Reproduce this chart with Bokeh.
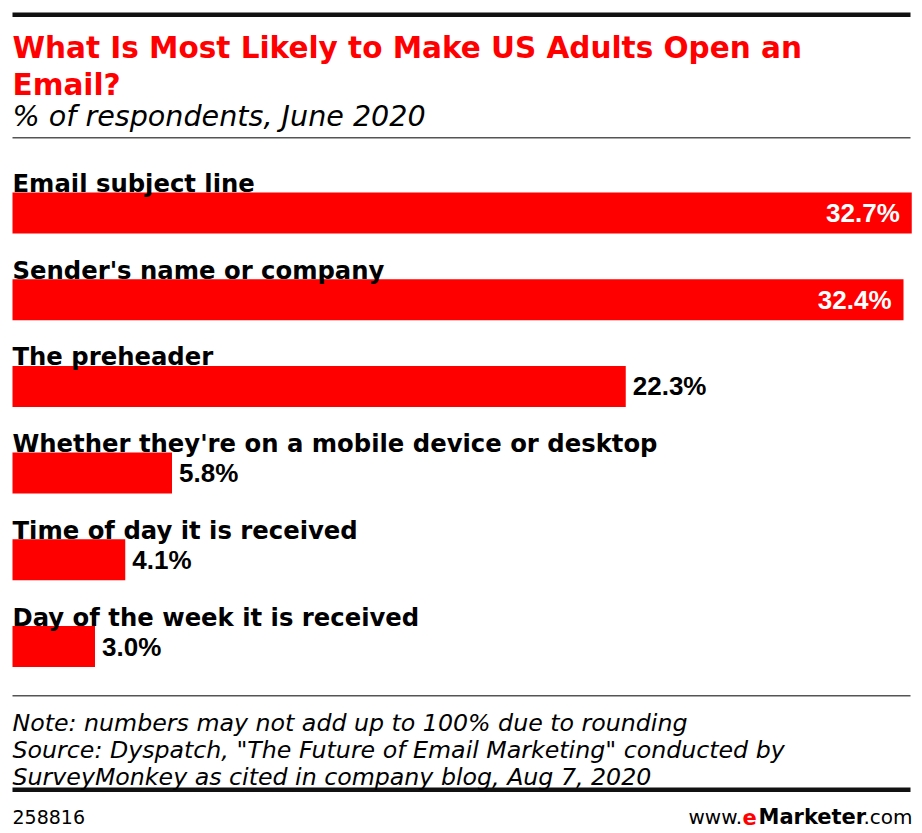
from bokeh.plotting import figure
from bokeh.models import Range1d, Label, BoxAnnotation, ColumnDataSource
from bokeh.core.properties import value
from bokeh.embed import file_html
from bokeh.resources import INLINE

# ---- data ----
categories = [
    "Email subject line",
    "Sender's name or company",
    "The preheader",
    "Whether they're on a mobile device or desktop",
    "Time of day it is received",
    "Day of the week it is received",
]
values = [32.7, 32.4, 22.3, 5.8, 4.1, 3.0]
value_labels = ["32.7%", "32.4%", "22.3%", "5.8%", "4.1%", "3.0%"]

title_lines = ["What Is Most Likely to Make US Adults Open an", "Email?"]
subtitle = "% of respondents, June 2020"
note_lines = [
    "Note: numbers may not add up to 100% due to rounding",
    "Source: Dyspatch, \"The Future of Email Marketing\" conducted by",
    "SurveyMonkey as cited in company blog, Aug 7, 2020",
]
chart_id = "258816"

# ---- layout helpers (page pixel -> data) ----
W, H = 922, 833
OFF = 0
KX = 27.5            # px per percentage point
X0 = -(12 - OFF) / KX
ROW = 86.7           # px per bar row
T = -(212.5 - OFF) / ROW

def dx(sx):
    return X0 + (sx - OFF) / KX

def dy(sy):
    return T + (sy - OFF) / ROW

p = figure(width=W, height=H, output_backend="svg", toolbar_location=None,
           x_range=Range1d(dx(OFF), dx(OFF + W)), y_range=Range1d(dy(OFF + H), dy(OFF)),
           x_axis_type=None, y_axis_type=None, min_border=0,
           outline_line_color=None)
p.grid.visible = False
p.background_fill_color = "white"
p.border_fill_color = "white"

idx = list(range(len(categories)))
RED = "#ff0000"

p.hbar(y=idx, left=0, right=values, height=41 / ROW, fill_color=RED, line_color=None)

# category labels above bars
p.text(x=[0] * len(idx), y=[i - 29.5 / ROW for i in idx], text=categories,
       text_font=value("DejaVu Sans"), text_font_style="bold", text_font_size="24.3px",
       text_color="black", text_baseline="alphabetic", text_align="left")

inside = [i for i in idx if values[i] > 30]
outside = [i for i in idx if values[i] <= 30]
src_in = ColumnDataSource(dict(x=[values[i] for i in inside], y=inside,
                               t=[value_labels[i] for i in inside]))
src_out = ColumnDataSource(dict(x=[values[i] for i in outside], y=outside,
                                t=[value_labels[i] for i in outside]))
p.text(x="x", y="y", text="t", source=src_in, x_offset=-12,
       text_font=value("Liberation Sans"), text_font_style="bold", text_font_size="26px",
       text_color="white", text_baseline="middle", text_align="right")
p.text(x="x", y="y", text="t", source=src_out, x_offset=7,
       text_font=value("Liberation Sans"), text_font_style="bold", text_font_size="26px",
       text_color="black", text_baseline="middle", text_align="left")

# rules
def hrule(top, bottom, color):
    p.add_layout(BoxAnnotation(left=dx(12), right=dx(910), top=dy(top), bottom=dy(bottom),
                               fill_color=color, fill_alpha=1, line_color=None))

hrule(12, 16.5, "#111111")
hrule(136.5, 138, "#555555")
hrule(694.5, 696, "#555555")
hrule(787, 791.5, "#111111")

def label(sx, sy, text, font, size, style="normal", color="black", align="left"):
    p.add_layout(Label(x=dx(sx), y=dy(sy), text=text, text_font=font,
                       text_font_size=size, text_font_style=style, text_color=color,
                       text_align=align, text_baseline="alphabetic"))

label(12, 47, title_lines[0], "DejaVu Sans", "29.5px", "bold", RED)
label(12, 84, title_lines[1], "DejaVu Sans", "29.5px", "bold", RED)
label(12, 115, subtitle, "DejaVu Sans", "28.6px", "italic")
for k, ln in enumerate(note_lines):
    label(12, 722 + k * 27, ln, "DejaVu Sans", "23.7px", "italic")
label(12, 816, chart_id, "DejaVu Sans", "19px")

label(688, 816, "www.", "DejaVu Sans", "20px")
label(742, 816, "e", "DejaVu Sans", "21px", "bold", RED)
label(758, 816, "Marketer", "DejaVu Sans", "21px", "bold")
label(863, 816, ".com", "DejaVu Sans", "20px")

open("out.html", "w").write(file_html(p, INLINE))
